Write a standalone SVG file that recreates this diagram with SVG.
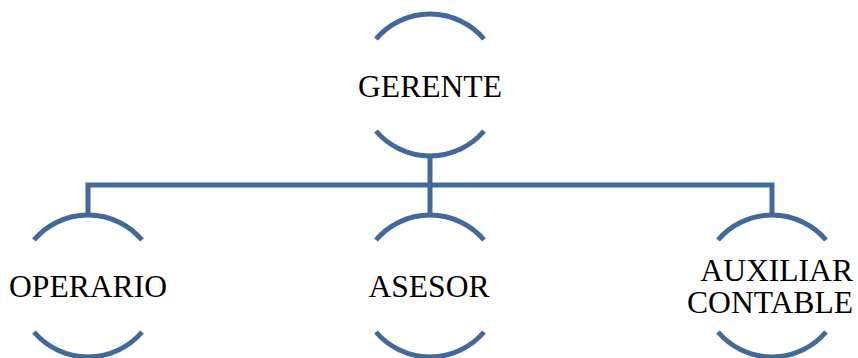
<svg xmlns="http://www.w3.org/2000/svg" width="858" height="358" viewBox="0 0 858 358">
<style>
.arc{fill:none;stroke:#41699C;stroke-width:5}
.conn{fill:none;stroke:#41699C;stroke-width:5;stroke-linejoin:miter}
.lbl{font-family:"Liberation Serif","Times New Roman",serif;font-size:31.6px;fill:#000}
</style>
<rect width="858" height="358" fill="#fff"/>
<g id="connectors">
<path class="conn" d="M430 156 V185"/>
<path class="conn" d="M88 215 V185 H772 V215"/>
<path class="conn" d="M430 185 V215"/>
</g>
<g id="gerente">
<path class="arc" d="M376 39 A71 71 0 0 1 484 39"/>
<path class="arc" d="M376 131 A71 71 0 0 0 484 131"/>
<text class="lbl" x="430" y="97" text-anchor="middle">GERENTE</text>
</g>
<g id="operario">
<path class="arc" d="M34 240 A71 71 0 0 1 142 240"/>
<path class="arc" d="M34 332 A71 71 0 0 0 142 332"/>
<text class="lbl" x="88" y="297" text-anchor="middle">OPERARIO</text>
</g>
<g id="asesor">
<path class="arc" d="M376 240 A71 71 0 0 1 484 240"/>
<path class="arc" d="M376 332 A71 71 0 0 0 484 332"/>
<text class="lbl" x="429" y="297" text-anchor="middle">ASESOR</text>
</g>
<g id="auxiliar">
<path class="arc" d="M718 240 A71 71 0 0 1 826 240"/>
<path class="arc" d="M718 332 A71 71 0 0 0 826 332"/>
<text class="lbl" x="853" y="281" text-anchor="end">AUXILIAR</text>
<text class="lbl" x="853" y="313" text-anchor="end">CONTABLE</text>
</g>
</svg>
